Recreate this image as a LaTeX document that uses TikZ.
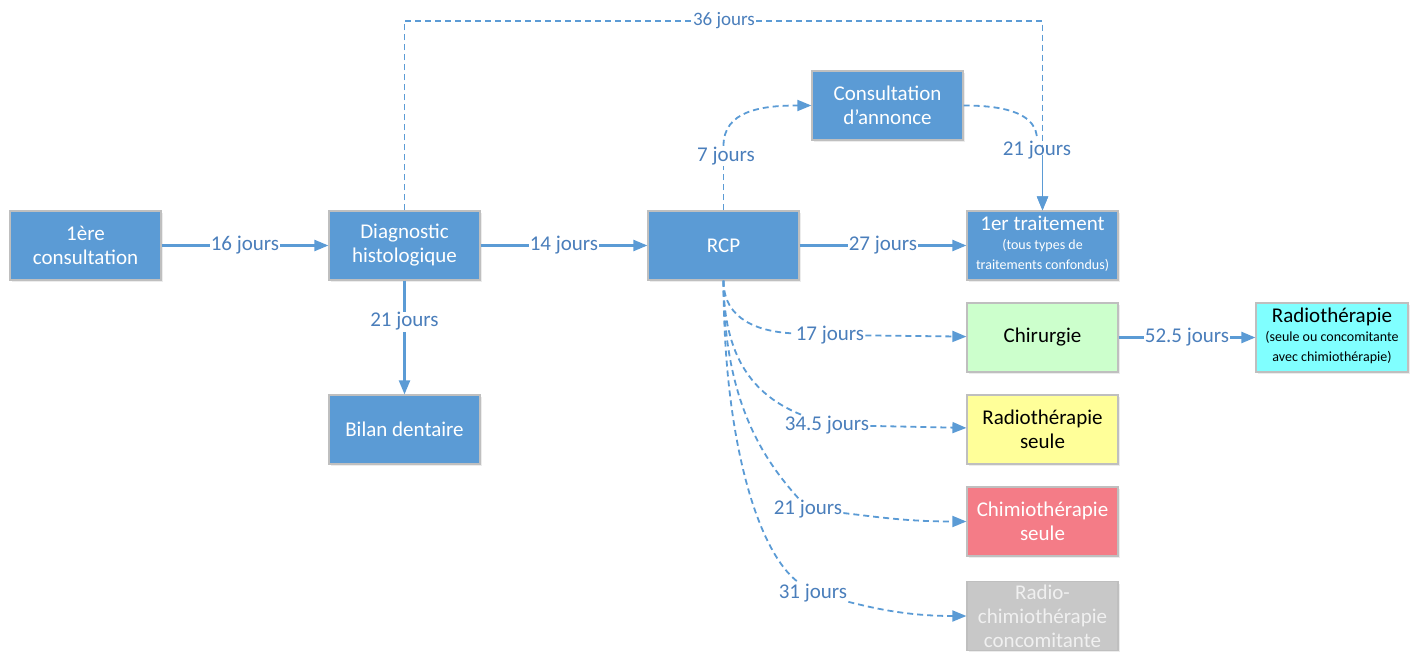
\documentclass[tikz,border=0pt]{standalone}
\usepackage{fontspec}
\setmainfont{Carlito}
\usetikzlibrary{arrows.meta,shadows}

\definecolor{boxblue}{RGB}{91,155,213}
\definecolor{linkblue}{RGB}{91,155,213}
\definecolor{daytext}{RGB}{74,126,187}
\definecolor{chirgreen}{RGB}{204,255,204}
\definecolor{radioyellow}{RGB}{255,255,153}
\definecolor{chimiored}{RGB}{244,124,135}
\definecolor{rcgray}{RGB}{200,200,200}
\definecolor{radiocyan}{RGB}{128,255,255}

\newcommand{\bigtxt}{\fontsize{21}{24}\selectfont}
\newcommand{\smalltxt}{\fontsize{14}{20}\selectfont}
\newcommand{\souslignes}[1]{{\smalltxt\begin{tabular}[t]{@{}c@{}}#1\end{tabular}}}

\tikzset{
  etape/.style={draw=black!25,line width=1.2pt,fill=boxblue,text=white,
    minimum width=151pt,minimum height=69pt,inner sep=2pt,align=center,font=\bigtxt,
    drop shadow={opacity=0.15,shadow xshift=1.5pt,shadow yshift=-2pt}},
  delai/.style={text=daytext,font=\bigtxt,inner sep=1pt},
  lien/.style={draw=linkblue,line width=2.2pt},
  pointille/.style={draw=linkblue,line width=1.8pt,dash pattern=on 6pt off 4pt},
  fleche/.style={-{Triangle[length=14pt,width=11pt]}},
}

\begin{document}
\begin{tikzpicture}[x=1pt,y=-1pt]
\useasboundingbox (0,0) rectangle (1418,652);
% parcours
\node[etape] (cons) at (85.5,245.5) {1ère\\consultation};
\node[etape] (diag) at (404.5,245.5) {Diagnostic\\histologique};
\node[etape] (rcp) at (723.5,245.5) {RCP};
\node[etape] (annonce) at (887.5,105.5) {Consultation\\d’annonce};
\node[etape] (trait) at (1042.5,245.5) {1er traitement\\[-5pt]\souslignes{(tous types de\\traitements confondus)}};
\node[etape] (bilan) at (404.5,429.5) {Bilan dentaire};
% traitements
\node[etape,fill=chirgreen,text=black] (chir) at (1042.5,337.5) {Chirurgie};
\node[etape,fill=radioyellow,text=black] (radio) at (1042.5,429.5) {Radiothérapie\\seule};
\node[etape,fill=chimiored] (chimio) at (1042.5,521.5) {Chimiothérapie\\seule};
\node[etape,fill=rcgray,text=black!6] (radiochimio) at (1042.5,616) {Radio-\\chimiothérapie\\concomitante};
\node[etape,fill=radiocyan,text=black,minimum width=152pt] (radiot) at (1332,337.5) {Radiothérapie\\[-5pt]\souslignes{(seule ou concomitante\\avec chimiothérapie)}};

% delais directs
\draw[lien,fleche] (cons) -- node[delai,fill=white] (j16) {16 jours} (diag);
\draw[lien,fleche] (diag) -- node[delai,fill=white] (j14) {14 jours} (rcp);
\draw[lien,fleche] (rcp) -- node[delai,fill=white] (j27) {27 jours} (trait);
\draw[lien,fleche] (diag) -- node[delai,fill=white,pos=0.36] (j21d) {21 jours} (bilan);
\draw[lien,fleche] (chir) -- node[delai,fill=white] (j525) {52.5 jours} (radiot);

% delai global
\node[delai,font=\fontsize{19}{22}\selectfont] (j36) at (724,21) {36 jours};
\draw[pointille] (diag.north) |- (j36.west);
\draw[pointille,fleche] (j36.east) -| (trait.north);

% annonce
\node[delai] (j7) at (726,156) {7 jours};
\node[delai] (j21a) at (1037,150) {21 jours};
\draw[pointille] (rcp.north) -- (rcp.north |- j7.south);
\draw[pointille,fleche] (rcp.north |- j7.north) .. controls +(0,-35) and +(-50,0) .. (annonce.west);
\draw[pointille] (annonce.east) .. controls +(45,0) and +(0,-25) .. (j21a.north);
\draw[pointille,fleche] (j21a.south -| trait.north) -- (trait.north);

% vers les traitements
\node[delai] (j17) at (830,335) {17 jours};
\node[delai] (j345) at (827,425) {34.5 jours};
\node[delai] (j21c) at (808,509) {21 jours};
\node[delai] (j31) at (813,593) {31 jours};
\draw[pointille] (rcp.south) .. controls +(0,40) and +(-70,-3) .. (j17);
\draw[pointille] (rcp.south) .. controls +(0,75) and +(-75,-30) .. (j345);
\draw[pointille] (rcp.south) .. controls +(0,120) and +(-45,-50) .. (j21c);
\draw[pointille] (rcp.south) .. controls +(0,160) and +(-55,-40) .. (j31);
\draw[pointille,fleche] (j17) -- (chir);
\draw[pointille,fleche] (j345) -- (radio);
\draw[pointille,fleche] (j21c) .. controls +(70,8) and +(-60,0) .. (chimio.west);
\draw[pointille,fleche] (j31) .. controls +(60,15) and +(-60,0) .. (radiochimio.west);
\end{tikzpicture}
\end{document}
